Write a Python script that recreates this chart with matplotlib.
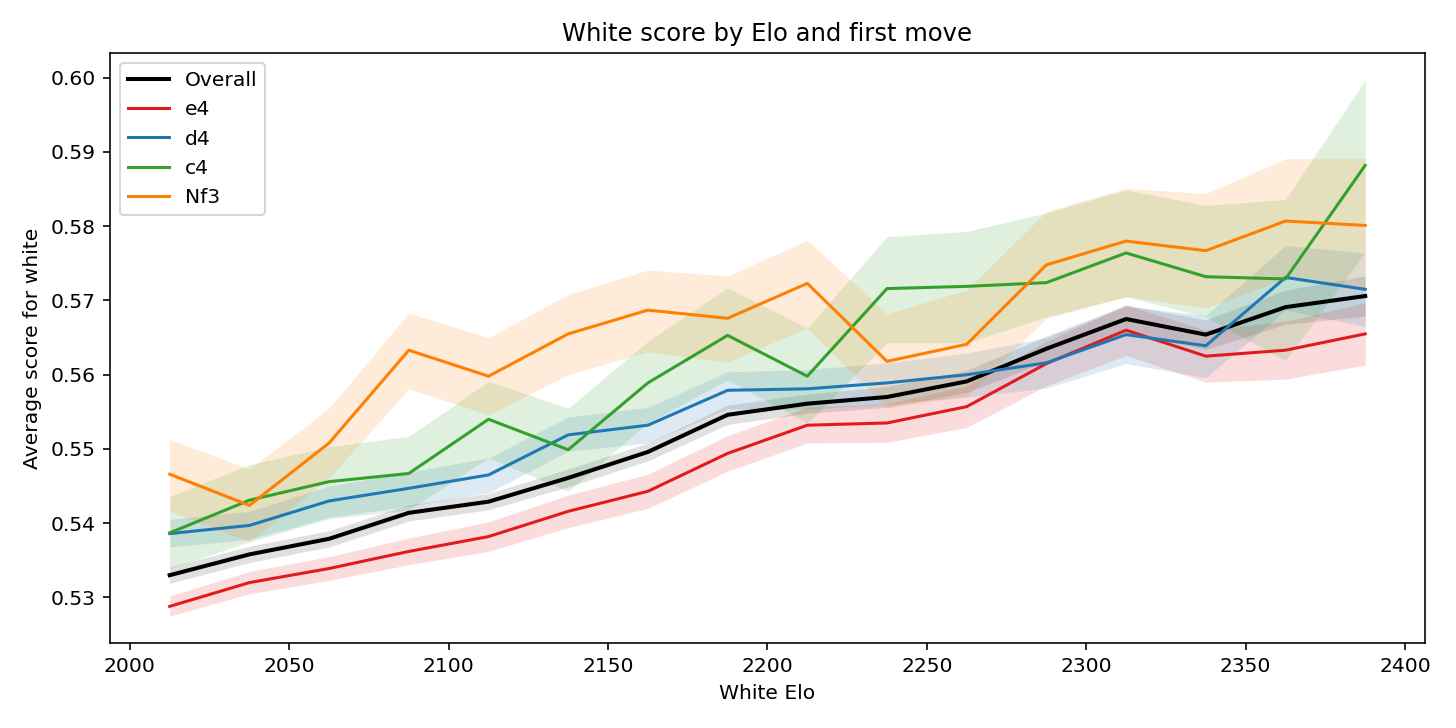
import numpy as np
import matplotlib
matplotlib.use("Agg")
import matplotlib.pyplot as plt

# elo bin centres (25 point bins)
elo = [2012.5, 2037.5, 2062.5, 2087.5, 2112.5, 2137.5, 2162.5, 2187.5,
       2212.5, 2237.5, 2262.5, 2287.5, 2312.5, 2337.5, 2362.5, 2387.5]

# overall score + 95% ci
overall = [0.5330, 0.5358, 0.5379, 0.5414, 0.5429, 0.5461, 0.5496, 0.5546,
           0.5561, 0.5570, 0.5591, 0.5635, 0.5675, 0.5654, 0.5691, 0.5706]
overall_lo = [0.5319, 0.5347, 0.5368, 0.5403, 0.5418, 0.5449, 0.5484, 0.5533,
              0.5548, 0.5556, 0.5576, 0.5618, 0.5656, 0.5634, 0.5668, 0.5679]
overall_hi = [0.5341, 0.5369, 0.5390, 0.5425, 0.5440, 0.5473, 0.5508, 0.5559,
              0.5574, 0.5584, 0.5606, 0.5652, 0.5694, 0.5674, 0.5714, 0.5733]

# per first move
e4 = [0.5288, 0.5320, 0.5339, 0.5362, 0.5382, 0.5416, 0.5443, 0.5494,
      0.5532, 0.5535, 0.5557, 0.5615, 0.5660, 0.5625, 0.5633, 0.5655]
e4_lo = [0.5275, 0.5305, 0.5323, 0.5344, 0.5362, 0.5394, 0.5420, 0.5470,
         0.5508, 0.5509, 0.5529, 0.5585, 0.5626, 0.5590, 0.5594, 0.5613]
e4_hi = [0.5302, 0.5335, 0.5355, 0.5380, 0.5402, 0.5438, 0.5466, 0.5518,
         0.5556, 0.5561, 0.5585, 0.5645, 0.5694, 0.5660, 0.5672, 0.5697]

d4 = [0.5386, 0.5397, 0.5430, 0.5447, 0.5465, 0.5519, 0.5532, 0.5579,
      0.5581, 0.5589, 0.5600, 0.5616, 0.5654, 0.5639, 0.5731, 0.5715]
d4_lo = [0.5368, 0.5378, 0.5408, 0.5423, 0.5441, 0.5497, 0.5508, 0.5554,
         0.5554, 0.5560, 0.5570, 0.5582, 0.5615, 0.5596, 0.5687, 0.5665]
d4_hi = [0.5405, 0.5416, 0.5450, 0.5469, 0.5488, 0.5543, 0.5556, 0.5604,
         0.5607, 0.5616, 0.5629, 0.5650, 0.5692, 0.5680, 0.5774, 0.5764]

c4 = [0.5387, 0.5431, 0.5456, 0.5467, 0.5540, 0.5499, 0.5589, 0.5653,
      0.5598, 0.5716, 0.5719, 0.5724, 0.5764, 0.5732, 0.5729, 0.5882]
c4_lo = [0.5339, 0.5375, 0.5406, 0.5418, 0.5488, 0.5443, 0.5535, 0.5593,
         0.5535, 0.5643, 0.5643, 0.5678, 0.5705, 0.5678, 0.5619, 0.5765]
c4_hi = [0.5436, 0.5479, 0.5503, 0.5517, 0.5591, 0.5555, 0.5645, 0.5717,
         0.5663, 0.5786, 0.5793, 0.5818, 0.5849, 0.5828, 0.5836, 0.5997]

nf3 = [0.5466, 0.5424, 0.5508, 0.5633, 0.5598, 0.5655, 0.5687, 0.5676,
       0.5723, 0.5618, 0.5641, 0.5748, 0.5780, 0.5767, 0.5807, 0.5801]
nf3_lo = [0.5416, 0.5375, 0.5461, 0.5581, 0.5546, 0.5600, 0.5631, 0.5617,
          0.5663, 0.5555, 0.5571, 0.5676, 0.5705, 0.5690, 0.5730, 0.5717]
nf3_hi = [0.5513, 0.5473, 0.5555, 0.5683, 0.5650, 0.5708, 0.5741, 0.5733,
          0.5781, 0.5682, 0.5714, 0.5820, 0.5851, 0.5844, 0.5891, 0.5891]

moves = ["e4", "d4", "c4", "Nf3"]
means = [e4, d4, c4, nf3]
lows = [e4_lo, d4_lo, c4_lo, nf3_lo]
highs = [e4_hi, d4_hi, c4_hi, nf3_hi]
colors = ["#e31a1c", "#1f78b4", "#33a02c", "#ff7f00"]

fig, ax = plt.subplots(figsize=(10, 5), dpi=145.6)

# overall line first
ax.plot(elo, overall, color="black", lw=2, label="Overall")
ax.fill_between(elo, overall_lo, overall_hi, color="black", alpha=0.12, lw=0)

for m, y, lo, hi, c in zip(moves, means, lows, highs, colors):
    ax.plot(elo, y, color=c, lw=1.5, label=m)
    ax.fill_between(elo, lo, hi, color=c, alpha=0.15, lw=0)

ax.set_title("White score by Elo and first move")
ax.set_xlabel("White Elo")
ax.set_ylabel("Average score for white")
ax.legend(loc="upper left")

plt.subplots_adjust(left=0.0755, right=0.9787, top=0.927, bottom=0.117)
plt.savefig("out.png", dpi=145.6)
